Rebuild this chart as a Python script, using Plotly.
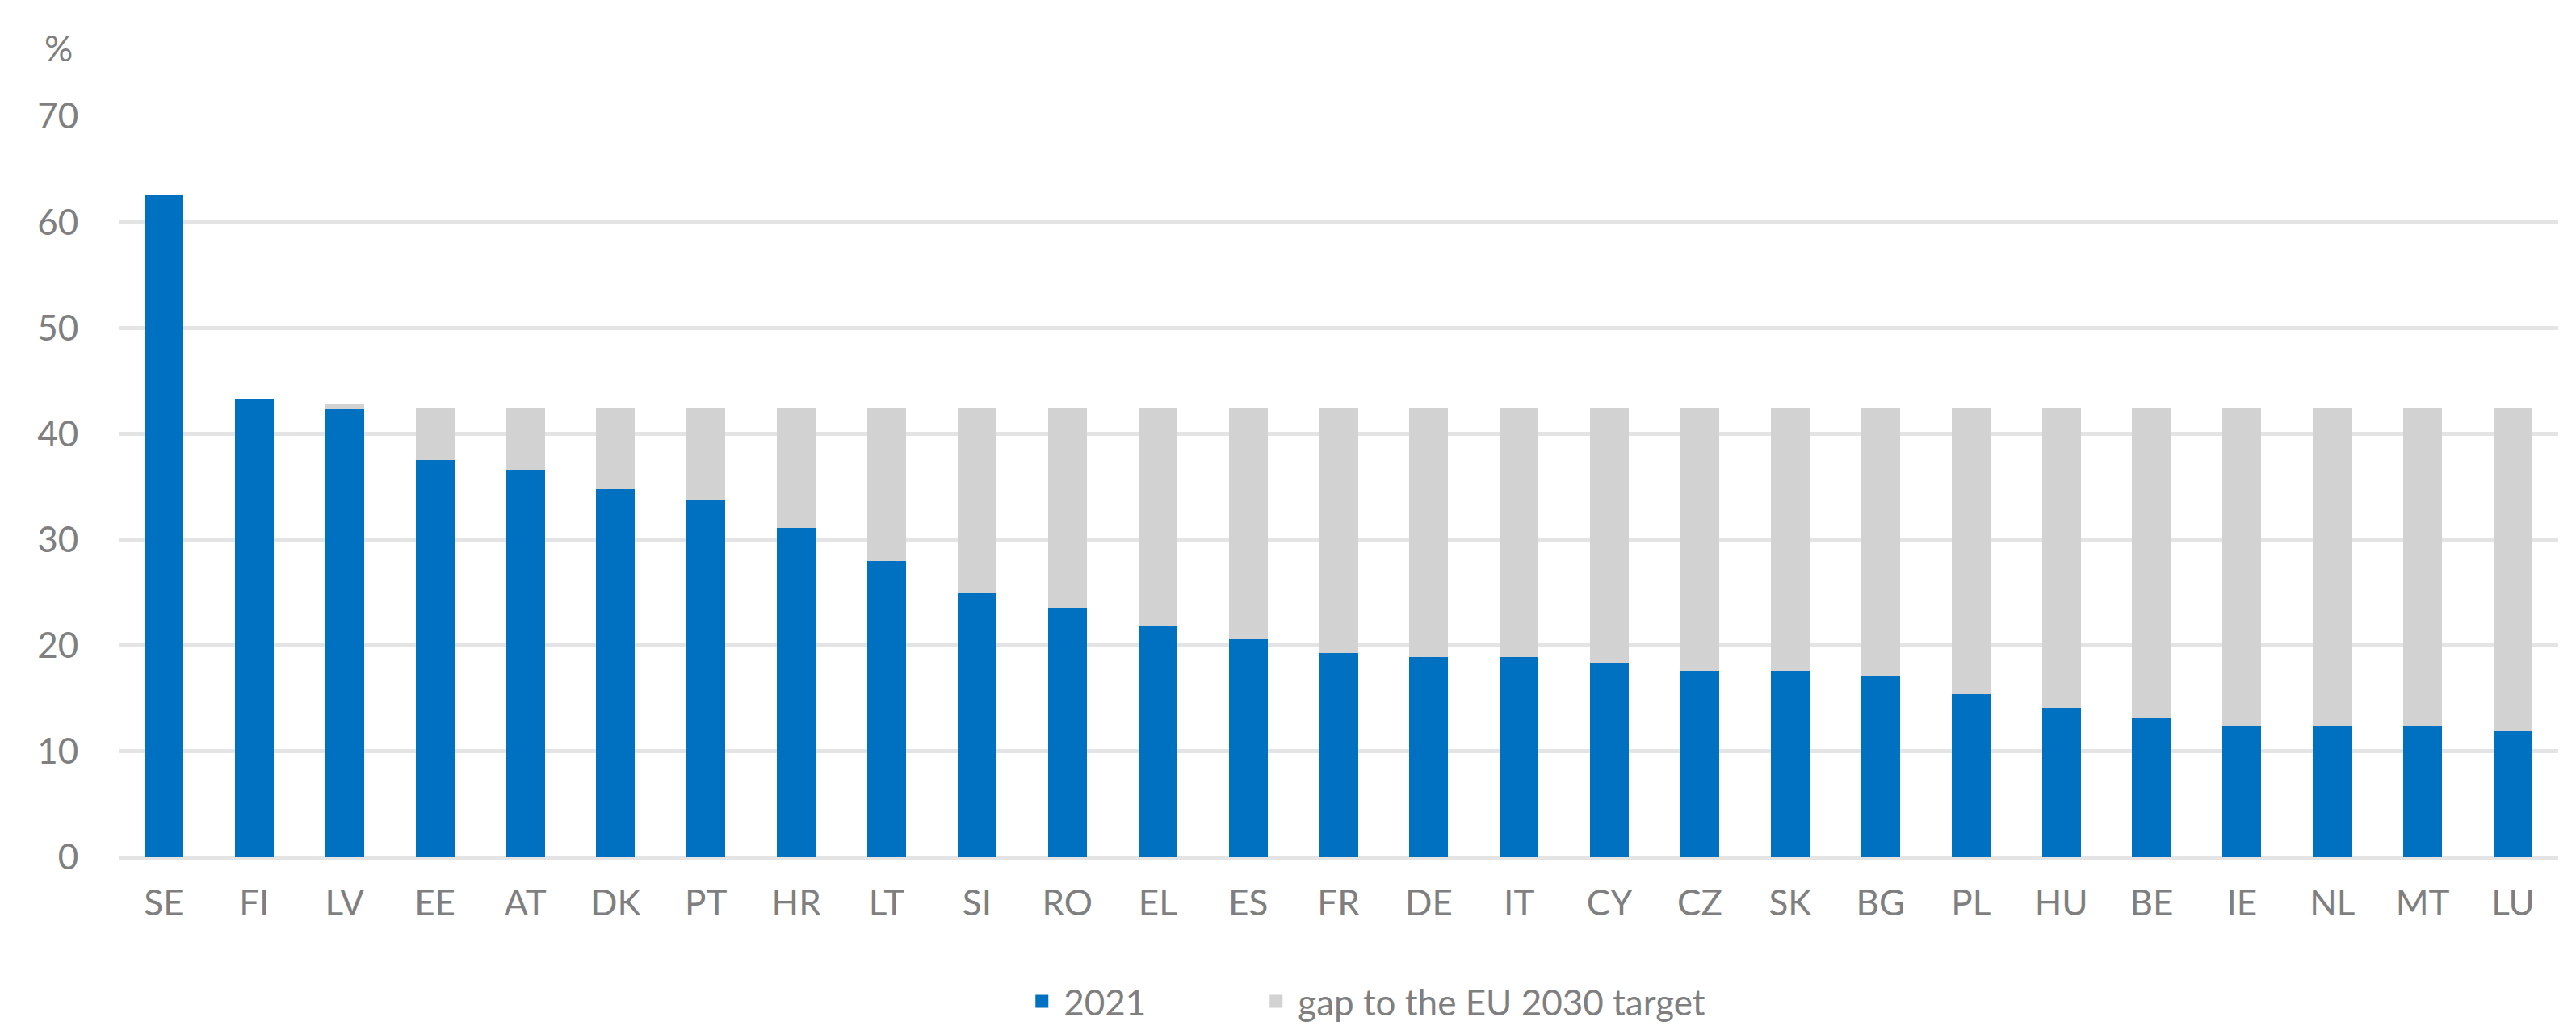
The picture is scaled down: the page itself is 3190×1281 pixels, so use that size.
import plotly.graph_objects as go

countries = ["SE", "FI", "LV", "EE", "AT", "DK", "PT", "HR", "LT", "SI", "RO", "EL", "ES", "FR",
             "DE", "IT", "CY", "CZ", "SK", "BG", "PL", "HU", "BE", "IE", "NL", "MT", "LU"]
share_2021 = [62.6, 43.3, 42.3, 37.5, 36.6, 34.8, 33.8, 31.1, 28.0, 24.9, 23.6, 21.9, 20.6, 19.3,
              18.9, 18.9, 18.4, 17.6, 17.6, 17.1, 15.4, 14.1, 13.2, 12.4, 12.4, 12.4, 11.9]
gap_2030 = [0.0, 0.0, 0.5, 5.0, 5.9, 7.7, 8.7, 11.4, 14.5, 17.6, 18.9, 20.6, 21.9, 23.2,
            23.6, 23.6, 24.1, 24.9, 24.9, 25.4, 27.1, 28.4, 29.3, 30.1, 30.1, 30.1, 30.6]
series_names = ["2021", "gap to the EU 2030 target"]
y_ticks = [0, 10, 20, 30, 40, 50, 60, 70]

BLUE = "#0070C0"
GREY = "#D2D2D2"
TXT = "#7F7F7F"
FONT = "Lato"

fig = go.Figure()
fig.add_trace(go.Bar(x=countries, y=share_2021, name=series_names[0], marker_color=BLUE,
                     marker_line_width=0, showlegend=False))
fig.add_trace(go.Bar(x=countries, y=gap_2030, name=series_names[1], marker_color=GREY,
                     marker_line_width=0, showlegend=False))
# legend proxies (larger square symbols)
fig.add_trace(go.Scatter(x=[None], y=[None], mode="markers", name=series_names[0],
                         marker=dict(symbol="square", size=16, color=BLUE), legend="legend"))
fig.add_trace(go.Scatter(x=[None], y=[None], mode="markers", name=series_names[1],
                         marker=dict(symbol="square", size=16, color=GREY), legend="legend2"))

legend_common = dict(orientation="h", xanchor="left", y=-0.195, yanchor="middle",
                     font=dict(family=FONT, size=44, color=TXT), itemwidth=44,
                     bgcolor="rgba(0,0,0,0)")

fig.update_layout(
    width=3190, height=1281,
    margin=dict(l=139, r=30, t=136, b=220),
    paper_bgcolor="white", plot_bgcolor="white",
    barmode="stack", bargap=0.57,
    font=dict(family=FONT, size=44, color=TXT),
    showlegend=True,
    legend=dict(x=0.3695, **legend_common),
    legend2=dict(x=0.4655, **legend_common),
    annotations=[dict(text="%", xref="paper", yref="paper", x=-0.0245, y=1.093,
                      xanchor="center", yanchor="middle", showarrow=False,
                      font=dict(family=FONT, size=44, color=TXT))],
)
fig.update_xaxes(type="category", showgrid=False, showline=False, zeroline=False,
                 ticks="outside", ticklen=18, tickcolor="rgba(0,0,0,0)",
                 tickfont=dict(family=FONT, size=44, color=TXT))
fig.update_yaxes(range=[0, 70], tickvals=y_ticks, showgrid=True, gridcolor="#E4E4E4",
                 gridwidth=5, zeroline=True, zerolinecolor="#E4E4E4", zerolinewidth=5,
                 showline=False, ticks="outside", ticklen=40, tickcolor="rgba(0,0,0,0)",
                 tickfont=dict(family=FONT, size=44, color=TXT))

fig.write_html("out.html")
